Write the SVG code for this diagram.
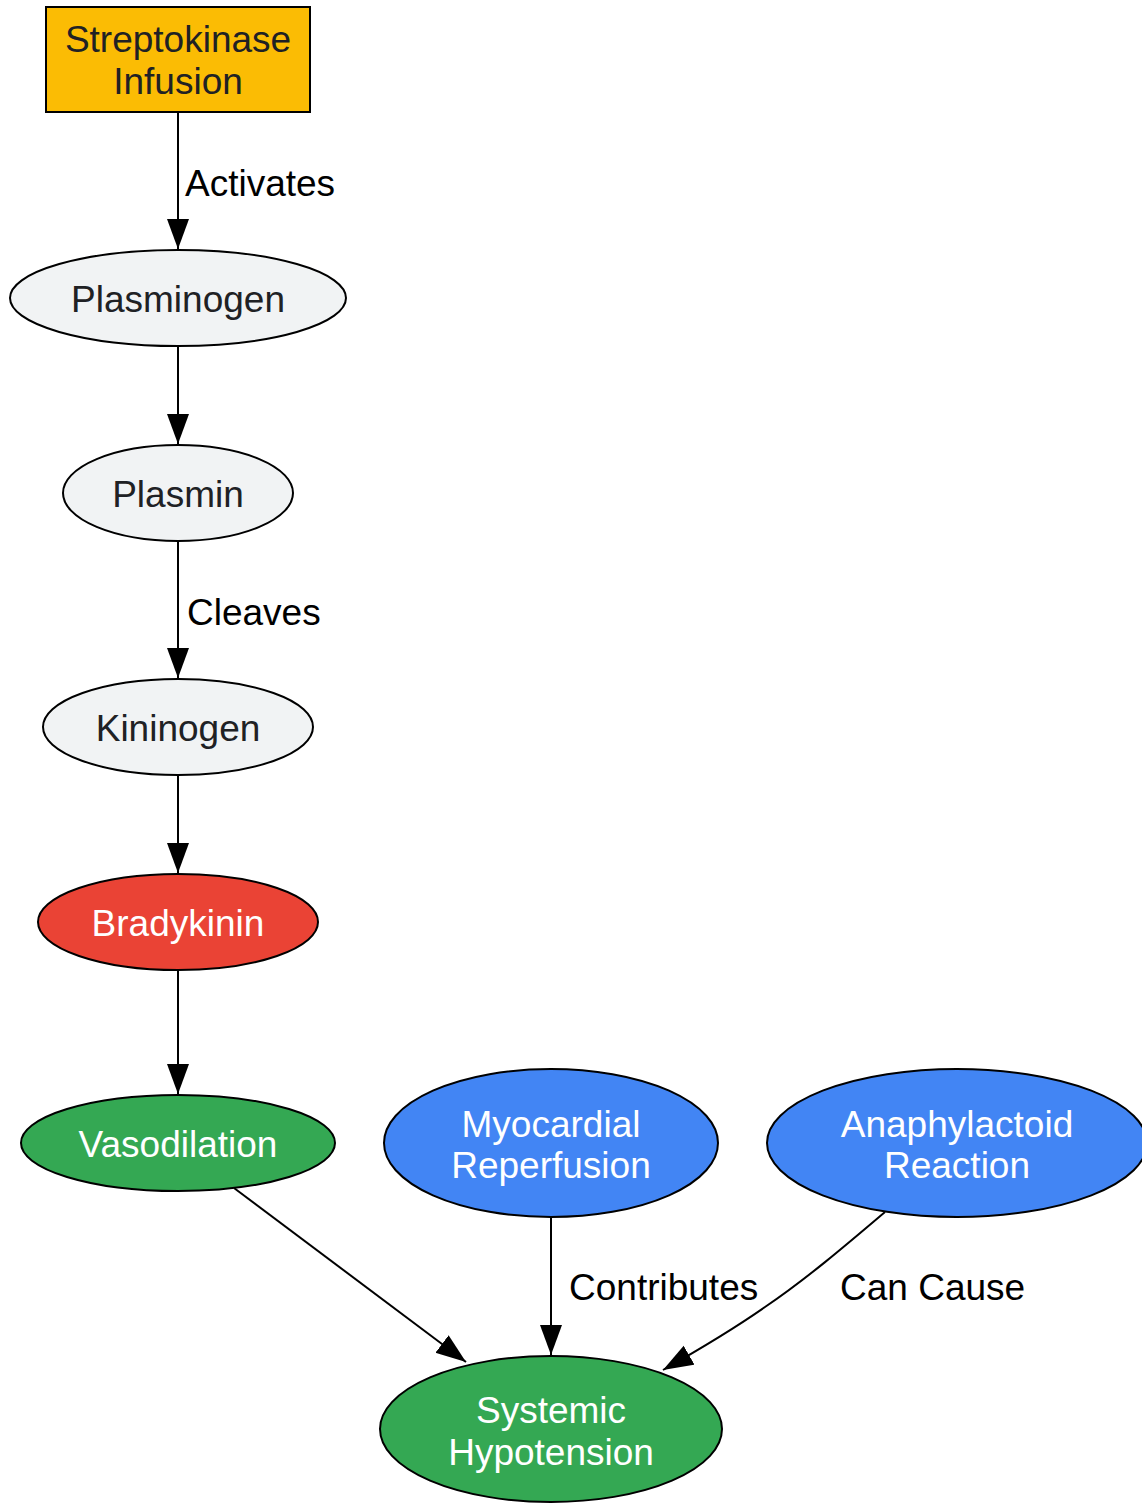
<svg xmlns="http://www.w3.org/2000/svg" width="1142" height="1503" viewBox="0 0 1142 1503">
<style>
text{font-family:"Liberation Sans",Arial,sans-serif;font-size:37px;text-anchor:middle}
.n{stroke:#000;stroke-width:2}
.lt{fill:#f1f3f4}
.dk{fill:#202124}
.wh{fill:#fff}
.e{fill:none;stroke:#000;stroke-width:2}
.lbl{fill:#000;text-anchor:start}
</style>
<defs>
<marker id="ah" markerUnits="userSpaceOnUse" markerWidth="32" markerHeight="24" refX="30" refY="11" orient="auto">
<path d="M0,0 L30,11 L0,22 z" fill="#000"/>
</marker>
</defs>
<rect width="1142" height="1503" fill="#fff"/>
<g id="connectors">
<line class="e" x1="178" y1="112" x2="178" y2="249" marker-end="url(#ah)"/>
<text class="lbl" x="185" y="196">Activates</text>
<line class="e" x1="178" y1="346" x2="178" y2="444" marker-end="url(#ah)"/>
<line class="e" x1="178" y1="541" x2="178" y2="678" marker-end="url(#ah)"/>
<text class="lbl" x="187" y="625">Cleaves</text>
<line class="e" x1="178" y1="775" x2="178" y2="873" marker-end="url(#ah)"/>
<line class="e" x1="178" y1="970" x2="178" y2="1094" marker-end="url(#ah)"/>
<line class="e" x1="234" y1="1188" x2="466" y2="1362" marker-end="url(#ah)"/>
<line class="e" x1="551" y1="1217" x2="551" y2="1355" marker-end="url(#ah)"/>
<text class="lbl" x="569" y="1300">Contributes</text>
<path class="e" d="M885,1212 C845,1246 805,1280 765,1307 C735,1328 700,1349 663,1370" marker-end="url(#ah)"/>
<text class="lbl" x="840" y="1300">Can Cause</text>
</g>
<g id="streptokinase">
<rect class="n" x="46" y="7" width="264" height="105" fill="#fbbc04"/>
<text class="dk" x="178" y="52">Streptokinase</text>
<text class="dk" x="178" y="94">Infusion</text>
</g>
<g id="plasminogen">
<ellipse class="n lt" cx="178" cy="298" rx="168" ry="48"/>
<text class="dk" x="178" y="312">Plasminogen</text>
</g>
<g id="plasmin">
<ellipse class="n lt" cx="178" cy="493" rx="115" ry="48"/>
<text class="dk" x="178" y="507">Plasmin</text>
</g>
<g id="kininogen">
<ellipse class="n lt" cx="178" cy="727" rx="135" ry="48"/>
<text class="dk" x="178" y="741">Kininogen</text>
</g>
<g id="bradykinin">
<ellipse class="n" cx="178" cy="922" rx="140" ry="48" fill="#ea4335"/>
<text class="wh" x="178" y="936">Bradykinin</text>
</g>
<g id="vasodilation">
<ellipse class="n" cx="178" cy="1143" rx="157" ry="48" fill="#34a853"/>
<text class="wh" x="178" y="1157">Vasodilation</text>
</g>
<g id="myocardial">
<ellipse class="n" cx="551" cy="1143" rx="167" ry="74" fill="#4285f4"/>
<text class="wh" x="551" y="1137">Myocardial</text>
<text class="wh" x="551" y="1178">Reperfusion</text>
</g>
<g id="anaphylactoid">
<ellipse class="n" cx="957" cy="1143" rx="190" ry="74" fill="#4285f4"/>
<text class="wh" x="957" y="1137">Anaphylactoid</text>
<text class="wh" x="957" y="1178">Reaction</text>
</g>
<g id="hypotension">
<ellipse class="n" cx="551" cy="1429" rx="171" ry="73" fill="#34a853"/>
<text class="wh" x="551" y="1423">Systemic</text>
<text class="wh" x="551" y="1465">Hypotension</text>
</g>
</svg>
